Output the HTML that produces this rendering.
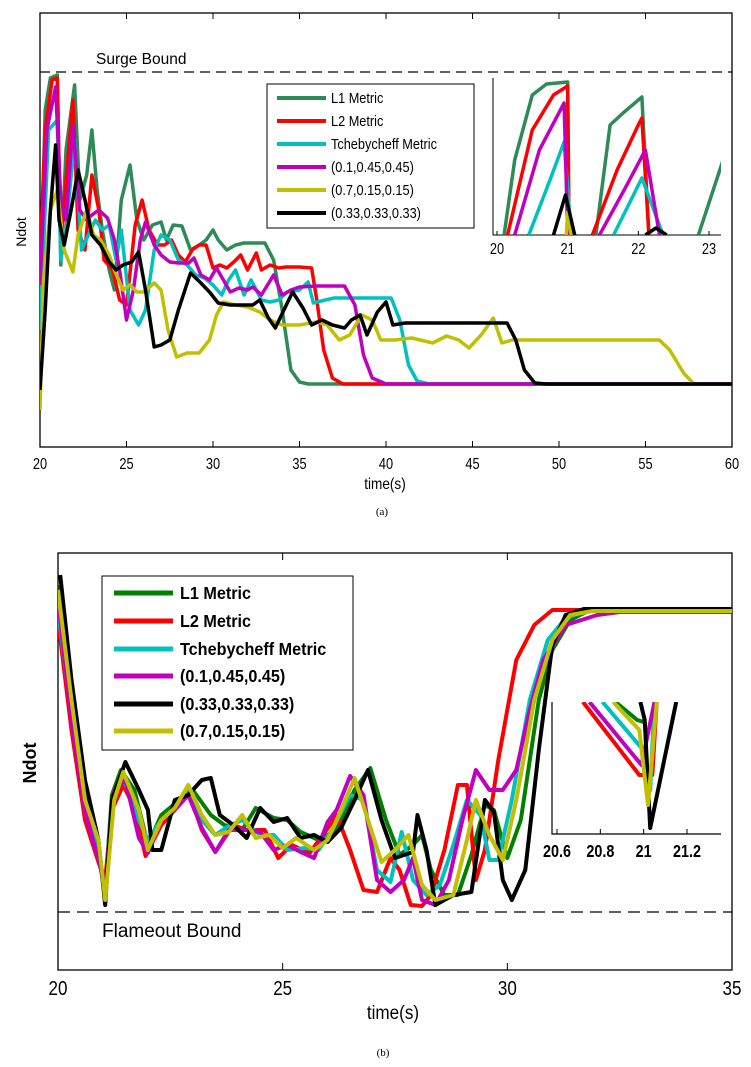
<!DOCTYPE html>
<html><head><meta charset="utf-8">
<style>
body{margin:0;background:#fff;}
svg{display:block;font-family:"Liberation Sans",Arial,sans-serif;}
</style></head>
<body>
<svg id="root" width="751" height="1067" viewBox="0 0 751 1067" xmlns="http://www.w3.org/2000/svg">
<defs>
<clipPath id="clipA"><rect x="40" y="13" width="692" height="434"/></clipPath>
<clipPath id="clipAi"><rect x="493" y="70" width="228" height="165"/></clipPath>
<clipPath id="clipB"><rect x="58" y="553" width="674" height="417"/></clipPath>
<clipPath id="clipBi"><rect x="552" y="702" width="169" height="132"/></clipPath>
</defs>
<g id="chartA"></g>
<g id="chartB"></g>
</svg>
<script>
// ===== Chart A data (time in s, Ndot in plot units; larger = lower on chart) =====
const aTicks = [20,25,30,35,40,45,50,55,60];
const aNames = ["L1 Metric","L2 Metric","Tchebycheff Metric","(0.1,0.45,0.45)","(0.7,0.15,0.15)","(0.33,0.33,0.33)"];
const aColors = ["#2e8b57","#ff0000","#00c0c0","#c000c0","#c0c000","#000000"];
const aT_L1 = [20,20.3,20.6,21.0,21.2,21.5,22.0,22.3,22.7,23.0,23.3,23.6,24.0,24.3,24.7,25.2,25.6,26.0,26.5,27,27.3,27.7,28.2,28.7,29.2,29.6,30,30.3,30.8,31.3,31.8,32.3,33.0,33.5,34,34.5,35.0,35.5,60];
const aV_L1 = [300,110,78,75,265,150,85,200,175,130,190,230,270,290,200,165,220,240,225,222,240,225,226,250,245,240,230,240,250,245,243,243,243,260,310,370,382,384,384];
const aT_L2 = [20,20.3,20.7,21.0,21.2,21.5,21.9,22.2,22.6,23.0,23.4,23.7,24.2,24.6,25.0,25.5,25.9,26.3,26.8,27.2,27.6,28.0,28.4,28.8,29.2,29.6,30.0,30.4,30.8,31.2,31.6,32.0,32.5,32.8,33.3,33.8,34.2,35.0,35.7,36.0,36.4,36.9,37.5,60];
const aV_L2 = [260,130,80,78,250,180,100,230,250,175,210,260,270,300,305,225,200,230,245,245,240,255,262,250,245,245,268,265,268,262,255,270,253,270,265,268,267,267,268,300,350,378,384,384];
const aT_TC = [20,20.5,21.0,21.2,21.5,22.0,22.4,22.8,23.2,23.6,24.0,24.4,24.7,25.2,25.7,26.1,26.6,27.0,27.5,28.0,28.5,29.0,29.5,30.0,30.5,30.9,31.3,31.8,32.2,32.8,33.3,33.8,34.3,35.0,35.5,35.8,36.5,37,40.3,40.8,41.3,41.8,42.5,60];
const aV_TC = [330,130,120,260,230,140,250,235,220,230,225,260,230,310,325,310,250,235,240,260,265,275,278,285,295,280,270,295,280,300,302,300,292,290,282,303,300,298,298,320,365,381,384,384];
const aT_W1 = [20,20.4,20.9,21.2,21.5,21.9,22.3,22.7,23.0,23.4,23.9,24.3,24.6,25.0,25.4,25.8,26.1,26.6,27.0,27.5,28.0,28.6,28.9,29.3,29.8,30.2,30.6,31.0,31.5,32.0,32.3,32.8,33.5,34.0,34.5,35.0,36,37.6,38.2,38.7,39.2,40,60];
const aV_W1 = [285,130,87,200,220,125,210,220,215,210,218,240,270,320,290,240,222,245,255,262,263,263,258,275,280,268,280,292,288,290,287,295,275,295,290,287,286,286,305,355,378,384,384];
const aT_W2 = [20,20.2,20.6,21.0,21.4,21.9,22.2,22.7,23.1,23.5,24.0,24.3,24.8,25.2,25.6,26.0,26.6,27.0,27.4,27.9,28.5,29.2,29.8,30.2,30.6,31.3,32.0,32.7,33.3,34.0,35.0,36,36.6,37.3,37.9,38.6,39.2,39.7,40.5,41.5,42.7,43.5,44.2,44.8,45.5,46.2,46.7,47.3,55.8,56.4,57.2,57.8];
const aV_W2 = [410,280,210,190,250,272,235,210,235,240,255,270,290,285,292,292,283,290,330,357,353,353,340,315,302,305,307,312,320,325,325,322,325,340,335,315,320,340,340,338,343,336,340,348,335,318,343,340,340,350,373,384];
const aT_W3 = [20,20.3,20.6,20.9,21.1,21.4,21.8,22.2,22.6,23.0,23.5,24.0,24.4,24.8,25.3,25.7,26.1,26.6,27.0,27.5,28.0,28.7,29.3,29.8,30.3,31.0,31.6,32.3,32.7,33.2,33.6,34.1,34.6,35.2,35.7,36.3,36.9,37.6,38.0,38.5,38.9,39.5,40.0,40.4,41.1,41.7,47,47.5,48.0,48.6,49.3,60];
const aV_W3 = [390,310,210,145,220,245,210,170,200,235,245,262,270,265,262,252,290,347,345,340,310,273,283,292,303,305,305,305,300,318,328,310,292,308,325,320,325,328,320,315,335,312,302,325,323,323,323,340,370,383,384,384];
// Inset A (zoom 20..23.2 s), each series as separate segments
const aiTicks = [20,21,22,23];
const aiT_L1 = [[20.1,20.25,20.5,20.7,21.0,21.01],[21.4,21.6,21.8,22.05,22.15],[22.85,23.2]];
const aiV_L1 = [[235,160,95,84,82,235],[235,125,112,97,235],[235,160]];
const aiT_L2 = [[20.15,20.5,20.8,21.0,21.02],[21.35,21.7,22.0,22.05,22.15]];
const aiV_L2 = [[235,130,95,86,235],[235,170,125,118,235]];
const aiT_TC = [[20.45,20.75,20.95,21.05],[21.65,22.05,22.35]];
const aiV_TC = [[235,180,142,235],[235,178,235]];
const aiT_W1 = [[20.25,20.6,20.95,21.0],[21.45,21.8,22.1,22.3]];
const aiV_W1 = [[235,150,103,235],[235,190,150,235]];
const aiT_W2 = [[20.98,21.0,21.05]];
const aiV_W2 = [[235,212,235]];
const aiT_W3 = [[20.8,20.97,21.1],[22.1,22.25,22.4]];
const aiV_W3 = [[235,195,235],[235,228,235]];

// ===== Chart B data =====
const bTicks = [20,25,30,35];
const bNames = ["L1 Metric","L2 Metric","Tchebycheff Metric","(0.1,0.45,0.45)","(0.33,0.33,0.33)","(0.7,0.15,0.15)"];
const bColors = ["#008000","#ff0000","#00c0c0","#c000c0","#000000","#c0c000"];
const bT_L1 = [20.05,20.3,20.6,20.9,21.05,21.2,21.4,21.7,22.0,22.3,22.7,23.0,23.4,23.7,24.1,24.4,24.8,25.1,25.4,25.8,26.2,26.6,26.95,27.3,27.6,27.9,28.1,28.3,28.6,28.9,29.2,29.5,29.7,30.0,30.3,30.7,31.0,31.4,31.8,35];
const bV_L1 = [585,700,790,850,890,795,770,790,845,815,800,790,815,825,830,808,818,820,832,840,830,790,768,820,855,845,835,870,895,895,855,805,810,858,820,700,650,620,611,611];
const bT_L2 = [20.0,20.3,20.6,20.9,21.05,21.2,21.45,21.7,21.95,22.3,22.6,22.9,23.2,23.5,23.9,24.2,24.6,24.9,25.2,25.6,25.9,26.2,26.5,26.8,27.1,27.4,27.6,27.85,28.1,28.3,28.6,28.9,29.1,29.3,29.5,29.8,30.2,30.6,31.0,35];
const bV_L2 = [620,730,820,862,880,810,785,808,856,825,810,790,830,852,825,830,830,858,845,853,835,815,850,890,892,858,870,905,906,895,850,785,785,880,850,760,660,625,610,610];
const bT_TC = [20.0,20.3,20.6,20.9,21.05,21.2,21.45,21.8,22.0,22.3,22.6,22.9,23.2,23.5,23.8,24.1,24.5,24.8,25.1,25.5,25.8,26.1,26.5,26.8,27.1,27.4,27.65,27.9,28.2,28.5,28.8,29.1,29.4,29.6,29.8,30.1,30.5,30.9,31.3,31.8,35];
const bV_TC = [610,715,805,855,895,800,778,820,840,820,808,790,820,835,826,820,835,835,850,848,850,830,795,800,870,882,832,880,895,885,845,800,815,860,860,800,700,640,618,610,610];
const bT_W1 = [20.0,20.3,20.6,20.9,21.05,21.25,21.5,21.8,22.0,22.3,22.6,22.9,23.2,23.5,23.8,24.2,24.5,24.8,25.1,25.4,25.7,26.0,26.2,26.5,26.8,27.1,27.4,27.7,27.9,28.1,28.4,28.7,29.0,29.3,29.6,29.9,30.2,30.5,30.8,31.3,32,32.5,35];
const bV_W1 = [600,720,810,860,885,790,780,838,853,820,810,795,828,852,830,830,832,850,845,852,858,822,810,776,795,880,892,880,858,900,905,880,820,770,790,790,770,710,660,625,615,612,612];
const bT_W3 = [20.05,20.3,20.6,20.9,21.05,21.2,21.5,21.8,22.0,22.1,22.3,22.6,22.9,23.2,23.4,23.6,23.9,24.2,24.5,24.8,25.1,25.4,25.7,26.0,26.3,26.6,26.9,27.2,27.5,27.7,27.9,28.0,28.2,28.4,28.6,28.8,29.2,29.5,29.7,29.9,30.1,30.4,30.7,31.0,31.3,31.7,35];
const bV_W3 = [575,680,780,840,905,800,762,790,810,850,850,800,795,780,778,815,825,838,808,822,818,838,835,842,828,800,770,820,858,855,852,815,850,905,900,895,892,800,812,880,900,870,750,645,615,609,609];
const bT_W2 = [20.0,20.3,20.6,20.9,21.05,21.25,21.45,21.8,22.0,22.3,22.6,22.9,23.2,23.5,23.8,24.1,24.4,24.7,25.0,25.3,25.7,26.0,26.3,26.6,26.9,27.2,27.5,27.8,28.1,28.4,28.8,29.1,29.3,29.6,29.9,30.2,30.6,31.0,31.4,31.9,35];
const bV_W2 = [590,700,800,840,900,800,772,810,850,820,808,785,815,835,832,815,838,835,848,838,850,840,810,778,820,862,850,835,885,900,895,840,800,835,860,800,700,640,615,611,611];
// Inset B (zoom around 21 s)
const biTicks = [20.6,20.8,21,21.2];
const biTickLabels = ["20.6","20.8","21","21.2"];
const biT_L1 = [20.87,20.97,21.0]; const biV_L1 = [702,720,722];
const biT_L2 = [20.72,20.98,21.04,21.06]; const biV_L2 = [702,775,775,702];
const biT_TC = [20.81,20.99,21.03,21.05]; const biV_TC = [702,748,790,702];
const biT_W1 = [20.75,20.99,21.05]; const biV_W1 = [702,765,702];
const biT_W3 = [20.985,21.005,21.03,21.15]; const biV_W3 = [702,720,828,702];
const biT_W2 = [20.86,20.98,21.02,21.06]; const biV_W2 = [702,730,805,702];

const NS="http://www.w3.org/2000/svg";
function mk(parent,tag,attrs){const e=document.createElementNS(NS,tag);for(const k in attrs)e.setAttribute(k,attrs[k]);parent.appendChild(e);return e;}
function lin(d0,d1,r0,r1){return v=>r0+(v-d0)*(r1-r0)/(d1-d0);}
function pathD(ts,vs,xs,ys){return ts.map((t,i)=>(i?'L':'M')+xs(t).toFixed(1)+','+ys(vs[i]).toFixed(1)).join('');}

// ---------- Chart A ----------
const A=document.getElementById('chartA');
const xA=lin(20,60,40,732), yA=lin(0,450,0,450);
const frameA=mk(A,'rect',{x:40,y:13,width:692,height:434,fill:'none',stroke:'#000','stroke-width':1.3});


aTicks.forEach(t=>{
  const x=xA(t);
  const tk=mk(A,'path',{d:`M${x},447v-6M${x},13v6`,stroke:'#000','stroke-width':1});
  
  
  const tl=mk(A,'text',{x:x,y:469,'font-size':16,'text-anchor':'middle',transform:`translate(${x},0) scale(0.8,1) translate(${-x},0)`});
  tl.textContent=t;
  
  
});
const sb=mk(A,'line',{x1:40,y1:72,x2:732,y2:72,stroke:'#000','stroke-width':1.2,'stroke-dasharray':'10,6'});


const sbt=mk(A,'text',{x:96,y:64,'font-size':15.5});sbt.textContent='Surge Bound';


const axA=mk(A,'text',{x:0,y:0,'font-size':14,'text-anchor':'middle',transform:'translate(26,232) rotate(-90)'});axA.textContent='Ndot';


const xtA=mk(A,'text',{x:385,y:489,'font-size':16,'text-anchor':'middle',transform:'translate(385,0) scale(0.85,1) translate(-385,0)'});xtA.textContent='time(s)';


const capA=mk(A,'text',{x:382,y:515,'font-size':11,'text-anchor':'middle','font-family':'Liberation Serif,serif'});capA.textContent='(a)';


const gA=mk(A,'g',{'clip-path':'url(#clipA)'});
const aSeries=[[aT_L1,aV_L1],[aT_L2,aV_L2],[aT_TC,aV_TC],[aT_W1,aV_W1],[aT_W2,aV_W2],[aT_W3,aV_W3]];
aSeries.forEach((s,i)=>{
  const p=mk(gA,'path',{d:pathD(s[0],s[1],xA,yA),fill:'none',stroke:aColors[i],'stroke-width':3.5,'stroke-linejoin':'round'});
  
  
});
// legend A
const lgA=mk(A,'g',{});


mk(lgA,'rect',{x:267,y:84,width:207,height:144,fill:'#fff',stroke:'#000','stroke-width':1});
aNames.forEach((n,i)=>{
  const y=98+i*23;
  const e=mk(lgA,'g',{});
  
  
  mk(e,'line',{x1:277,y1:y,x2:326,y2:y,stroke:aColors[i],'stroke-width':4});
  const t=mk(e,'text',{x:331,y:y+5,'font-size':15,transform:`translate(331,0) scale(0.85,1) translate(-331,0)`});t.textContent=n;
});
// inset A
const iA=mk(A,'g',{});


const xAi=lin(20,23,497,709);
mk(iA,'rect',{x:493,y:78,width:228,height:157,fill:'#fff'});
mk(iA,'path',{d:'M493,78V235H721',fill:'none',stroke:'#000','stroke-width':1});
aiTicks.forEach(t=>{const x=xAi(t);mk(iA,'line',{x1:x,y1:235,x2:x,y2:231,stroke:'#000'});
  const tl=mk(iA,'text',{x:x,y:254,'font-size':16,'text-anchor':'middle',transform:`translate(${x},0) scale(0.8,1) translate(${-x},0)`});tl.textContent=t;
  
  });
const giA=mk(iA,'g',{'clip-path':'url(#clipAi)'});
const aiSeries=[[aiT_L1,aiV_L1],[aiT_L2,aiV_L2],[aiT_TC,aiV_TC],[aiT_W1,aiV_W1],[aiT_W2,aiV_W2],[aiT_W3,aiV_W3]];
aiSeries.forEach((s,i)=>{
  s[0].forEach((seg,j)=>{
    const p=mk(giA,'path',{d:pathD(seg,s[1][j],xAi,yA),fill:'none',stroke:aColors[i],'stroke-width':3.5,'stroke-linejoin':'round'});
    
    
  });
});

// ---------- Chart B ----------
const B=document.getElementById('chartB');
const xB=lin(20,35,58,732), yB=lin(0,1000,0,1000);
const frameB=mk(B,'rect',{x:58,y:553,width:674,height:417,fill:'none',stroke:'#000','stroke-width':1.3});


bTicks.forEach(t=>{
  const x=xB(t);
  const tk=mk(B,'path',{d:`M${x},970v-7M${x},553v7`,stroke:'#000','stroke-width':1});
  
  
  const tl=mk(B,'text',{x:x,y:995,'font-size':20,'text-anchor':'middle',transform:`translate(${x},0) scale(0.85,1) translate(${-x},0)`});tl.textContent=t;
  
  
});
const fb=mk(B,'line',{x1:58,y1:912,x2:732,y2:912,stroke:'#000','stroke-width':1.2,'stroke-dasharray':'12,7'});


const fbt=mk(B,'text',{x:102,y:937,'font-size':19});fbt.textContent='Flameout Bound';


const axB=mk(B,'text',{x:0,y:0,'font-size':18,'font-weight':'bold','text-anchor':'middle',transform:'translate(36,763) rotate(-90)'});axB.textContent='Ndot';


const xtB=mk(B,'text',{x:393,y:1019,'font-size':19,'text-anchor':'middle',transform:'translate(393,0) scale(0.9,1) translate(-393,0)'});xtB.textContent='time(s)';


const capB=mk(B,'text',{x:383,y:1056,'font-size':11,'text-anchor':'middle','font-family':'Liberation Serif,serif'});capB.textContent='(b)';


const gB=mk(B,'g',{'clip-path':'url(#clipB)'});
const bSeries=[[bT_L1,bV_L1],[bT_L2,bV_L2],[bT_TC,bV_TC],[bT_W1,bV_W1],[bT_W3,bV_W3],[bT_W2,bV_W2]];
bSeries.forEach((s,i)=>{
  const p=mk(gB,'path',{d:pathD(s[0],s[1],xB,yB),fill:'none',stroke:bColors[i],'stroke-width':4,'stroke-linejoin':'round'});
  
  
});
// legend B
const lgB=mk(B,'g',{});


mk(lgB,'rect',{x:102,y:576,width:251,height:174,fill:'#fff',stroke:'#000','stroke-width':1});
const bLegY=[593,621,649,676,704,731];
bNames.forEach((n,i)=>{
  const y=bLegY[i];
  const e=mk(lgB,'g',{});
  
  
  mk(e,'line',{x1:114,y1:y,x2:173,y2:y,stroke:bColors[i],'stroke-width':5});
  const t=mk(e,'text',{x:180,y:y+6,'font-size':18,'font-weight':'bold',transform:`translate(180,0) scale(0.9,1) translate(-180,0)`});t.textContent=n;
});
// inset B
const iB=mk(B,'g',{});


const xBi=lin(20.6,21.2,557,687);
mk(iB,'path',{d:'M552,702V834H721',fill:'none',stroke:'#000','stroke-width':1.2});
biTicks.forEach((t,i)=>{const x=xBi(t);mk(iB,'line',{x1:x,y1:834,x2:x,y2:829,stroke:'#000'});
  const tl=mk(iB,'text',{x:x,y:857,'font-size':18,'font-weight':'bold','text-anchor':'middle',transform:`translate(${x},0) scale(0.8,1) translate(${-x},0)`});tl.textContent=biTickLabels[i];
  
  });
const giB=mk(iB,'g',{'clip-path':'url(#clipBi)'});
const biSeries=[[biT_L1,biV_L1],[biT_L2,biV_L2],[biT_TC,biV_TC],[biT_W1,biV_W1],[biT_W3,biV_W3],[biT_W2,biV_W2]];
biSeries.forEach((s,i)=>{
  const p=mk(giB,'path',{d:pathD(s[0],s[1],xBi,yB),fill:'none',stroke:bColors[i],'stroke-width':4,'stroke-linejoin':'round'});
  
  
});
</script>
</body></html>
